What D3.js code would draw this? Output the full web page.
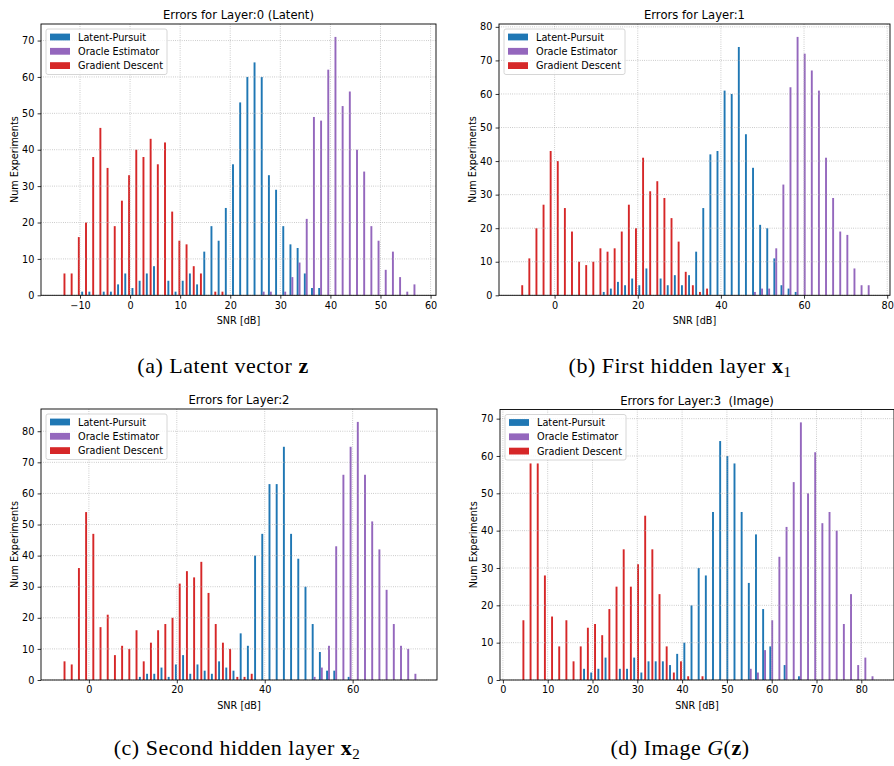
<!DOCTYPE html>
<html>
<head>
<meta charset="utf-8">
<style>
	body { margin: 0; background: #fff; }
	text { font-family: "DejaVu Sans", sans-serif; fill: #000; }
	.cap { font-family: "Liberation Serif", serif; }
</style>
</head>
<body>
<svg id="chart" width="894" height="766"></svg>
<script src="https://d3js.org/d3.v7.min.js"></script>
<script>
	const seriesNames = ["Latent-Pursuit", "Oracle Estimator", "Gradient Descent"]
	const seriesColors = ["#1f77b4", "#9467bd", "#d62728"]
	const nBins = 50

	// layer 0 (latent) - histogram range and counts per bin
	const binsL0 = [-14.2, 57.5]
	const lpL0 = [0,0,0,1,1,0,1,1,3,6, 2,4,6,8,0,4,1,4,6,3, 12,19,15,24,36,53,60,64,60,33, 29,19,14,13,6,2,2,0,0,0, 0,0,0,0,0,0,0,0,0,0]
	const oeL0 = [0,0,0,0,0,0,0,0,0,0, 0,0,0,0,0,0,0,0,0,0, 0,0,0,0,0,0,0,0,1,1, 0,1,5,9,21,49,48,62,71,52, 56,40,34,19,15,7,12,5,1,3]
	const gdL0 = [6,6,16,20,38,46,35,19,26,33, 40,38,43,36,42,23,15,14,8,6, 0,1,1,0,0,0,0,0,0,0, 0,0,0,0,0,0,0,0,0,0, 0,0,0,0,0,0,0,0,0,0]

	// layer 1
	const binsL1 = [-9.1, 76.4]
	const lpL1 = [0,0,0,0,0,0,0,0,0,0, 0,0,1,2,4,3,5,3,8,0, 5,3,6,3,6,13,26,42,43,61, 60,74,48,38,21,20,11,3,2,1, 0,0,0,0,0,0,0,0,0,0]
	const oeL1 = [0,0,0,0,0,0,0,0,0,0, 0,0,0,0,0,0,0,0,0,0, 0,0,0,0,0,0,0,0,0,0, 0,0,0,1,2,2,14,33,62,77, 72,67,61,41,29,19,18,8,3,3]
	const gdL1 = [3,11,20,27,43,40,26,19,10,9, 10,14,13,14,19,27,20,41,31,34, 29,23,16,7,3,1,2,0,0,0, 0,0,0,0,0,0,0,0,0,0, 0,0,0,0,0,0,0,0,0,0]

	// layer 2
	const binsL2 = [-6.8, 75.1]
	const lpL2 = [0,0,0,0,0,0,0,0,0,0, 0,1,2,2,4,1,5,8,2,5, 3,2,6,4,3,15,11,40,47,63, 63,75,47,39,30,18,9,3,3,0, 1,0,0,0,0,0,0,0,0,0]
	const oeL2 = [0,0,0,0,0,0,0,0,0,0, 0,0,0,0,0,0,0,0,0,0, 0,0,0,0,0,0,0,0,0,0, 0,0,0,0,0,1,4,11,43,66, 75,83,66,51,42,29,18,11,10,2]
	const gdL2 = [6,5,36,54,47,17,21,8,11,10, 16,6,12,16,18,20,31,35,33,38, 28,18,12,10,1,1,2,0,0,0, 0,0,0,0,0,0,0,0,0,0, 0,0,0,0,0,0,0,0,0,0]

	// layer 3 (image)
	const binsL3 = [3.35, 83.3]
	const lpL3 = [0,0,0,0,0,0,0,0,0,3, 2,3,6,0,3,3,6,2,5,5, 5,4,7,10,20,30,28,45,64,60, 58,45,26,39,19,9,0,4,0,1, 0,0,0,0,0,0,0,0,0,0]
	const oeL3 = [0,0,0,0,0,0,0,0,0,0, 0,0,0,0,0,0,0,0,0,0, 0,0,0,0,0,0,0,0,0,0, 0,0,3,2,8,16,33,41,53,69, 50,61,42,45,40,15,23,4,6,1]
	const gdL3 = [16,58,58,28,17,9,16,5,9,14, 15,12,19,25,35,25,31,44,35,23, 9,2,5,1,0,1,0,0,0,0, 0,0,0,0,0,0,0,0,0,0, 0,0,0,0,0,0,0,0,0,0]

	const titles = ["Errors for Layer:0 (Latent)", "Errors for Layer:1", "Errors for Layer:2", "Errors for Layer:3  (Image)"]
	const xTickSets = [[-10,0,10,20,30,40,50,60], [0,20,40,60,80], [0,20,40,60], [0,10,20,30,40,50,60,70,80]]

	let svg = d3.select("#chart")

	let panels = [
		{bins: binsL0, data: [lpL0, oeL0, gdL0], box: [41, 436, 24, 295.3]},
		{bins: binsL1, data: [lpL1, oeL1, gdL1], box: [499, 890, 24, 295.3]},
		{bins: binsL2, data: [lpL2, oeL2, gdL2], box: [41, 437, 409, 680]},
		{bins: binsL3, data: [lpL3, oeL3, gdL3], box: [500, 894, 409.5, 680]}
	]

	panels.forEach((p, k) => drawPanel(p, k))

	function drawPanel(p, k) {
		let [left, right, top, bottom] = p.box
		let [lo, hi] = p.bins
		let pad = 0.05 * (hi - lo)
		let g = svg.append("g")

		let x = d3.scaleLinear().domain([lo - pad, hi + pad]).range([left, right])
		let ymax = d3.max(p.data, s => d3.max(s)) * 1.05
		let y = d3.scaleLinear().domain([0, ymax]).range([bottom, top])

		let w = (hi - lo) / nBins
		let bw = 0.8 * w / 3

		// bars, matplotlib style: 3 datasets side by side inside each bin
		p.data.forEach((vals, s) => {
			g.append("g").selectAll("rect")
				.data(vals.map((v, i) => ({v: v, i: i})).filter(d => d.v > 0))
				.enter().append("rect")
				.attr("x", d => x(lo + d.i * w + 0.1 * w + s * bw))
				.attr("width", x(bw) - x(0))
				.attr("y", d => y(d.v))
				.attr("height", d => y(0) - y(d.v))
				.attr("fill", seriesColors[s])
		})

		let xTicks = xTickSets[k]
		let yTicks = d3.range(0, ymax, 10)

		// dotted grid (above bars like matplotlib)
		g.append("g").selectAll("line").data(xTicks).enter().append("line")
			.attr("x1", d => x(d)).attr("x2", d => x(d))
			.attr("y1", top).attr("y2", bottom)
			.attr("stroke", "#b0b0b0").attr("stroke-width", 0.8).attr("stroke-dasharray", "0.8,1.4")
		g.append("g").selectAll("line").data(yTicks).enter().append("line")
			.attr("y1", d => y(d)).attr("y2", d => y(d))
			.attr("x1", left).attr("x2", right)
			.attr("stroke", "#b0b0b0").attr("stroke-width", 0.8).attr("stroke-dasharray", "0.8,1.4")

		// axes
		let xAxis = g.append("g").attr("transform", `translate(0,${bottom})`)
			.call(d3.axisBottom(x).tickValues(xTicks).tickSize(3.4).tickPadding(3.2))
		let yAxis = g.append("g").attr("transform", `translate(${left},0)`)
			.call(d3.axisLeft(y).tickValues(yTicks).tickSize(3.4).tickPadding(3.2))
		;[xAxis, yAxis].forEach(a => {
			a.select(".domain").remove()
			a.selectAll("text").style("font-size", "9.7px").style("font-family", "DejaVu Sans").attr("fill", "#000")
			a.selectAll("line").attr("stroke", "#000").attr("stroke-width", 0.8)
		})

		// spines
		g.append("rect")
			.attr("x", left).attr("y", top)
			.attr("width", right - left).attr("height", bottom - top)
			.attr("fill", "none").attr("stroke", "#000").attr("stroke-width", 0.9)

		// labels
		g.append("text")
			.attr("x", (left + right) / 2).attr("y", top - 5)
			.attr("text-anchor", "middle")
			.style("font-size", "11.6px").style("white-space", "pre")
			.text(titles[k])
		g.append("text")
			.attr("x", (left + right) / 2).attr("y", bottom + 28.5)
			.attr("text-anchor", "middle")
			.style("font-size", "9.7px")
			.text("SNR [dB]")
		g.append("text")
			.attr("transform", `translate(${left - 23.5},${(top + bottom) / 2}) rotate(-90)`)
			.attr("text-anchor", "middle")
			.style("font-size", "9.7px")
			.text("Num Experiments")

		// legend
		let lg = g.append("g").attr("transform", `translate(${left + 5},${top + 5})`)
		lg.append("rect")
			.attr("width", 121).attr("height", 45.5).attr("rx", 2)
			.attr("fill", "#fff").attr("fill-opacity", 0.8)
			.attr("stroke", "#cccccc").attr("stroke-width", 0.8)
		seriesNames.forEach((name, s) => {
			let cy = 8 + s * 14.3
			lg.append("rect")
				.attr("x", 4).attr("y", cy - 3.4)
				.attr("width", 20).attr("height", 6.8)
				.attr("fill", seriesColors[s])
			lg.append("text")
				.attr("x", 32).attr("y", cy + 3.5)
				.style("font-size", "9.7px")
				.text(name)
		})
	}

	// sub-figure captions
	let caps = [
		{x: 223, y: 373, parts: [["(a) Latent vector ", ""], ["z", "b"]]},
		{x: 680, y: 373, parts: [["(b) First hidden layer ", ""], ["x", "b"], ["1", "sub"]]},
		{x: 237, y: 755, parts: [["(c) Second hidden layer ", ""], ["x", "b"], ["2", "sub"]]},
		{x: 680, y: 755, parts: [["(d) Image ", ""], ["G", "i"], ["(", ""], ["z", "b"], [")", ""]]}
	]
	caps.forEach(c => {
		let t = svg.append("text").attr("class", "cap")
			.attr("x", c.x).attr("y", c.y)
			.attr("text-anchor", "middle")
			.style("font-size", "22px").style("letter-spacing", "0.5px")
		c.parts.forEach(([str, st]) => {
			let ts = t.append("tspan").text(str)
			if (st == "b") ts.attr("font-weight", "bold")
			if (st == "i") ts.attr("font-style", "italic")
			if (st == "sub") ts.attr("dy", 4).style("font-size", "15px")
		})
	})
</script>
</body>
</html>
